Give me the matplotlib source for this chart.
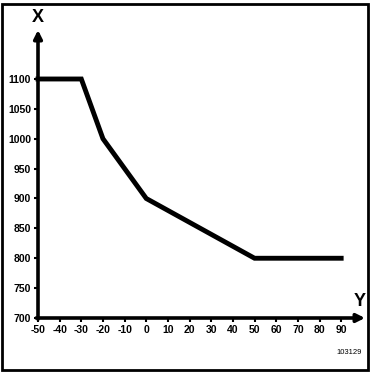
import matplotlib
matplotlib.use("Agg")
import matplotlib.pyplot as plt
from matplotlib.patches import Rectangle

# curve points (Y on horizontal axis, X on vertical axis)
y_vals = [-50, -30, -20, 0, 50, 90]
x_vals = [1100, 1100, 1000, 900, 800, 800]

x_ticks = [-50, -40, -30, -20, -10, 0, 10, 20, 30, 40, 50, 60, 70, 80, 90]
y_ticks = [700, 750, 800, 850, 900, 950, 1000, 1050, 1100]

plt.rcParams['font.family'] = ['Liberation Sans', 'DejaVu Sans']
plt.rcParams['axes.unicode_minus'] = False

fig = plt.figure(figsize=(3.71, 3.72), dpi=100)
ax = fig.add_axes([38 / 371, 54 / 372, 327 / 371, 288 / 372])

ax.plot(y_vals, x_vals, color='black', lw=3.5, solid_joinstyle='miter', clip_on=False)

ax.set_xlim(-50, 101)
ax.set_ylim(700, 1182)
for s in ax.spines.values():
    s.set_visible(False)

# axes with arrow heads
ax.annotate('', xy=(101, 700), xytext=(-50.8, 700),
            arrowprops=dict(arrowstyle='-|>', lw=2.6, color='black',
                            mutation_scale=12, shrinkA=0, shrinkB=0))
ax.annotate('', xy=(-50, 1182), xytext=(-50, 698),
            arrowprops=dict(arrowstyle='-|>', lw=2.6, color='black',
                            mutation_scale=12, shrinkA=0, shrinkB=0))

ax.set_xticks(x_ticks)
ax.set_yticks(y_ticks)
ax.tick_params(direction='out', length=3, width=1.5, labelsize=7.5, pad=2)
for lab in ax.get_xticklabels() + ax.get_yticklabels():
    lab.set_fontweight('bold')

fig.text(38 / 371, 1 - 18 / 372, 'X', ha='center', va='center',
         fontsize=13, fontweight='bold')
fig.text(360 / 371, 1 - 302 / 372, 'Y', ha='center', va='center',
         fontsize=13, fontweight='bold')
fig.text(362 / 371, 1 - 353 / 372, '103129', ha='right', va='center', fontsize=5.5)

fig.patches.append(Rectangle((2 / 371, 2 / 372), 366 / 371, 366 / 372,
                             transform=fig.transFigure, fill=False,
                             lw=2, edgecolor='black'))

fig.savefig('out.png', dpi=100)
